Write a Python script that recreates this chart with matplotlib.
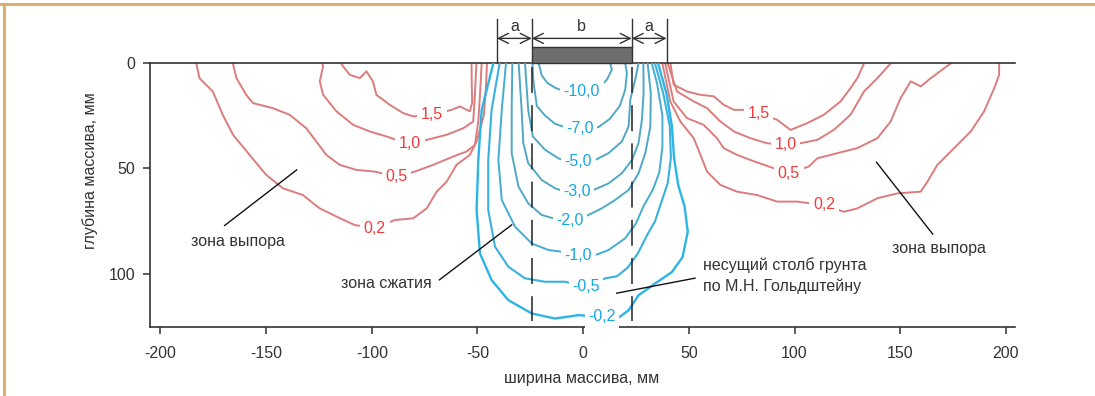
import matplotlib
matplotlib.use("Agg")
import matplotlib.pyplot as plt
from matplotlib.patches import Rectangle
from matplotlib.lines import Line2D

plt.rcParams['font.family'] = ['Liberation Sans', 'DejaVu Sans']

# ---------------- data (mm) ----------------
x_ticks = [-200, -150, -100, -50, 0, 50, 100, 150, 200]
y_ticks = [0, 50, 100]
x_label = "ширина массива, мм"
y_label = "глубина массива, мм"

stamp_left, stamp_right = -24.3, 23.0
a_left, a_right = -40.8, 39.5

# positive (red) isolines, left side
red_l_15 = [(-52.8, 0.3), (-52.7, 10), (-52.5, 19), (-53.6, 23), (-58.3, 20.7), (-62.2, 22.3),
            (-71.6, 24.6), (-80.4, 25.4), (-85.2, 23.8), (-91.5, 19.9), (-97.8, 15.2), (-99.4, 8.9),
            (-102.5, 4.1), (-105.7, 7.3), (-110.4, 5.7), (-113.6, 1.7), (-114.5, 0.3)]
red_l_10 = [(-50.5, 0.3), (-51.2, 15.2), (-52, 27.8), (-56.7, 31), (-64.6, 34.1), (-74, 36.5),
            (-82, 38.0), (-88.3, 36.5), (-93, 34.9), (-101, 32.5), (-108.8, 29.4), (-116.7, 23),
            (-123, 15.2), (-124.6, 8.8), (-123, 1.7), (-123.5, 0.3)]
red_l_05 = [(-48, 0.3), (-48.8, 15.2), (-49.6, 27.8), (-51.2, 38.9), (-55.1, 42), (-61.5, 44.4),
            (-70.9, 48.3), (-79.6, 51.5), (-88.3, 54), (-98.6, 51.5), (-107.3, 50.7), (-115.2, 48.3),
            (-121.5, 43.6), (-126.2, 37.3), (-131, 31), (-138.9, 24.6), (-146.8, 21.5), (-156.2, 19.1),
            (-159.4, 15.2), (-164, 7.3), (-165.7, 0.3)]
red_l_02 = [(-45.5, 0.3), (-46, 12), (-47, 25), (-50.4, 37.3), (-53.6, 43.6), (-59.9, 48.3),
            (-64.6, 56.3), (-69.3, 61), (-74, 68.9), (-80.4, 73.6), (-89, 74.4), (-98.6, 78.2),
            (-108, 76.8), (-115, 73.6), (-124.6, 68.9), (-132.6, 62.6), (-142, 59.4), (-150, 53),
            (-157.8, 43.6), (-165.7, 34), (-170.5, 24.6), (-175.2, 13.6), (-181.5, 7.3), (-183, 0.3)]

# positive (red) isolines, right side
red_r_15 = [(41.3, 0.3), (42.8, 10.4), (49.1, 13.6), (55.5, 15.2), (61.8, 15.9), (66.5, 19.9),
            (71.3, 22.3), (76, 22.3), (83, 24), (91.8, 27), (98.1, 31.8), (106, 28.6), (113.9, 24.6),
            (121.8, 18.3), (126.5, 12), (129.7, 7.3), (132.9, 0.3)]
red_r_10 = [(40.0, 0.3), (44.4, 13.6), (52.3, 18.3), (58.6, 21.5), (64.9, 27.8), (71.3, 32.5),
            (79.1, 35.7), (87, 38.1), (95.7, 38.9), (102.8, 38.1), (110.8, 36.5), (118.6, 31.8),
            (126.5, 24.6), (132.9, 13.6), (139.2, 7.3), (145.5, 0.3)]
red_r_05 = [(38.8, 0.3), (42.8, 18.3), (49.1, 26.2), (57, 29.4), (63.3, 35.7), (66.5, 40.4),
            (72.8, 43.6), (79.1, 46), (87.8, 49.1), (97.3, 52.3), (106.8, 49.1), (110.8, 45.2),
            (120.2, 42.8), (129.7, 40.4), (139.2, 35.7), (145.5, 27.8), (150.2, 16.7), (155, 8.8),
            (159.7, 11.2), (164.5, 7.3), (173.9, 0.3)]
red_r_02 = [(37.5, 0.3), (41.2, 18.3), (46, 27.8), (52.3, 35.7), (55.5, 43.6), (58.6, 51.5),
            (64.9, 57.8), (72.8, 61), (82.3, 62.6), (91.8, 65.7), (101.2, 65.7), (113.9, 67.3),
            (123.4, 70.5), (129.7, 68.9), (139.2, 64.1), (148.7, 61.8), (159.7, 61), (162.9, 56.2),
            (167.6, 48.3), (173.9, 42), (183.4, 32.5), (189.7, 23), (194.5, 12), (196.8, 5.7),
            (196.8, 0.3)]

# negative (blue) isolines
blue_100 = [(-21, 0.3), (-19.6, 6), (-17, 9.5), (-13, 12), (-9, 13.5), (-0.6, 13.8), (6.5, 12.8),
            (11.2, 8.1), (13.6, 3.3), (12.8, 0.3)]
blue_70 = [(-24, 0.3), (-23.5, 9), (-21.9, 20.5), (-18, 25), (-13.3, 28.9), (-8.5, 30.5),
           (-1.4, 31), (7.2, 30.5), (12.6, 26.6), (17.3, 20.5), (19.9, 12.8), (20.7, 5), (19.9, 0.3)]
blue_50 = [(-27.5, 0.3), (-26, 22.3), (-23.8, 34.9), (-18, 41.2), (-11.7, 45.2), (-8.5, 46.7),
           (-2.2, 46.8), (5.7, 46), (12, 42.8), (18.3, 37.3), (21.5, 30.2), (22.3, 17.5),
           (24.6, 8.1), (26.2, 0.3)]
blue_30 = [(-30.5, 0.3), (-29.1, 22.3), (-28.3, 38), (-26, 47.5), (-19.6, 55.5), (-13.3, 59.4),
           (-8.5, 61), (-3, 61), (4.9, 60.2), (12, 57.1), (18.3, 52.3), (23.1, 46), (26.2, 38),
           (27.8, 27), (28.6, 14.4), (28.5, 0.3)]
blue_20 = [(-33.5, 0.3), (-33.8, 22.3), (-33.8, 42.8), (-30.6, 58.6), (-26, 66.5), (-19.6, 72),
           (-14.1, 73.6), (-6.2, 74.4), (0.9, 72.8), (8.8, 68.9), (15.2, 64.9), (21.5, 60.2),
           (26.2, 52.3), (29.4, 42.8), (31.8, 30.2), (32, 14.4), (30.5, 0.3)]
blue_10 = [(-36.5, 0.3), (-38.5, 22.3), (-40.1, 46), (-38.5, 64.9), (-32.2, 77.6), (-24.3, 85.5),
           (-16.4, 88.6), (-10.1, 89.4), (-2.2, 91), (5.7, 91), (12, 88.6), (19.9, 83), (25, 76),
           (28.5, 68), (33, 60), (36, 52), (37.5, 40), (37.5, 25), (35, 10), (32.5, 0.3)]
blue_05 = [(-39.5, 0.3), (-43.3, 22.3), (-44.9, 46), (-44.9, 69.7), (-41.7, 87), (-35.4, 96.5),
           (-27.5, 102), (-18, 103.6), (-8.5, 103.6), (1.3, 106), (10.4, 102), (16, 101), (21, 97),
           (26, 90), (30, 82), (34, 75), (37, 66), (40, 57), (41.5, 45), (41, 30), (38, 15),
           (34, 0.3)]
blue_02 = [(-42.5, 0.3), (-48, 22.3), (-49.6, 46), (-50.4, 69.7), (-48.8, 90.2), (-43.3, 102.8),
           (-35.4, 112.3), (-24.3, 118.6), (-13.3, 121), (-2.2, 119.4), (8.8, 120.2), (17.3, 120.2),
           (21.5, 117.1), (26.2, 110), (34.1, 104.4), (42, 99), (47, 92), (49.5, 80), (48, 68),
           (45, 58), (43, 45), (42, 30), (39.5, 15), (35.5, 0.3)]

# isoline labels: (x, y, text)
red_labels = [(-71.6, 24.6, "1,5"), (-82, 38.0, "1,0"), (-88.3, 54, "0,5"), (-98.6, 78.2, "0,2"),
              (83, 24, "1,5"), (95.7, 38.9, "1,0"), (97.3, 52.3, "0,5"), (113.9, 67.3, "0,2")]
blue_labels = [(-0.6, 13.8, "-10,0"), (-1.4, 31, "-7,0"), (-2.2, 46.8, "-5,0"), (-3, 61, "-3,0"),
               (-6.2, 74.4, "-2,0"), (-2.2, 91, "-1,0"), (1.3, 106, "-0,5"), (8.8, 120.2, "-0,2")]

# annotations: text position, leader line from -> to
ann_left_txt = (-163.5, 84.5, "зона выпора")
ann_left_line = [(-169.6, 77), (-135.5, 50.7)]
ann_right_txt = (168.2, 87.7, "зона выпора")
ann_right_line = [(165.4, 81.1), (138.8, 47.1)]
ann_comp_txt = (-93.2, 104.3, "зона сжатия")
ann_comp_line = [(-68, 102.7), (-33.8, 76.7)]
ann_col_txt = (56.7, 100.8, "несущий столб грунта\nпо М.Н. Гольдштейну")
ann_col_line = [(52.9, 101.9), (15.9, 109)]

# ---------------- figure ----------------
W, H = 1095, 396
fig = plt.figure(figsize=(W / 100, H / 100), dpi=100)
fig.patch.set_facecolor('white')

ax_l, ax_r, ax_t, ax_b = 149.8, 1015, 62.7, 327
ax = fig.add_axes([ax_l / W, 1 - ax_b / H, (ax_r - ax_l) / W, (ax_b - ax_t) / H])
ax.set_xlim(-205, 204.3)
ax.set_ylim(125, 0)

dark = '#333333'
for s in ['left', 'bottom', 'top']:
    ax.spines[s].set_color(dark)
    ax.spines[s].set_linewidth(1.2)
ax.spines['right'].set_visible(False)

ax.set_xticks(x_ticks)
ax.set_xticklabels([str(v) for v in x_ticks])
ax.set_yticks(y_ticks)
ax.set_yticklabels([str(v) for v in y_ticks])
ax.tick_params(axis='x', length=4.8, width=1.1, color=dark, labelsize=11.5, labelcolor=dark, pad=9)
ax.tick_params(axis='y', length=4.8, width=1.1, color=dark, labelsize=11.5, labelcolor=dark, pad=5.5)

red_c = '#DC7C7C'
for line in [red_l_15, red_l_10, red_l_05, red_l_02, red_r_15, red_r_10, red_r_05, red_r_02]:
    xs, ys = zip(*line)
    ax.plot(xs, ys, color=red_c, lw=1.4, solid_capstyle='round', solid_joinstyle='round', zorder=2)

for line, col, lw in [(blue_100, '#4FA9C6', 1.4), (blue_70, '#4FA9C6', 1.4), (blue_50, '#4FA9C6', 1.4),
                      (blue_30, '#4FA9C6', 1.4), (blue_20, '#4FA9C6', 1.4), (blue_10, '#45ACD4', 1.4),
                      (blue_05, '#38B1E0', 1.5), (blue_02, '#2DB4E6', 1.7)]:
    xs, ys = zip(*line)
    ax.plot(xs, ys, color=col, lw=lw, solid_capstyle='round', solid_joinstyle='round', zorder=3)

# dashed stamp-edge lines
for xv in (stamp_left, stamp_right):
    ax.plot([xv, xv], [2, 122], color='#222222', lw=1.1, dashes=(17, 8), zorder=4)

# labels (white box leaves a gap in the isoline)
for x, y, t in red_labels:
    ax.text(x, y, t, color='#EE3B3B', fontsize=11.5, ha='center', va='center', zorder=6,
            bbox=dict(facecolor='white', edgecolor='none', pad=2.8))
for x, y, t in blue_labels:
    ax.text(x, y, t, color='#16A6E0', fontsize=11.5, ha='center', va='center', zorder=6,
            bbox=dict(facecolor='white', edgecolor='none', pad=2.5))

# stamp and dimension lines above the ground surface
ax.add_patch(Rectangle((stamp_left, -7.6), stamp_right - stamp_left, 7.6, facecolor='#6E6E6E',
                       edgecolor='#333333', lw=1.0, clip_on=False, zorder=5))
for xv in (a_left, a_right):
    ax.plot([xv, xv], [-20.5, 0], color=dark, lw=1.0, clip_on=False, zorder=5)
for xv in (stamp_left, stamp_right):
    ax.plot([xv, xv], [-20.5, -7.6], color=dark, lw=1.0, clip_on=False, zorder=5)
for x0, x1, t in [(a_left, stamp_left, 'a'), (stamp_left, stamp_right, 'b'), (stamp_right, a_right, 'a')]:
    ax.annotate('', xy=(x0, -11.5), xytext=(x1, -11.5), annotation_clip=False,
                arrowprops=dict(arrowstyle='<->,head_length=0.6,head_width=0.3', color=dark, lw=1.0,
                                shrinkA=0, shrinkB=0, mutation_scale=12))
    ax.text((x0 + x1) / 2, -17.3, t, ha='center', va='center', fontsize=11.5, color=dark, clip_on=False)

# annotations
for (tx, ty, tt), ln, ha in [(ann_left_txt, ann_left_line, 'center'), (ann_right_txt, ann_right_line, 'center'),
                             (ann_comp_txt, ann_comp_line, 'center'), (ann_col_txt, ann_col_line, 'left')]:
    (xa, ya), (xb, yb) = ln
    ax.plot([xa, xb], [ya, yb], color='#111111', lw=1.0, zorder=7)
    ax.text(tx, ty, tt, ha=ha, va='center', fontsize=11.5, color=dark, linespacing=1.45, zorder=7)

# axis titles
fig.text(582 / W, 1 - 378 / H, x_label, ha='center', va='center', fontsize=11.5, color=dark)
fig.text(90 / W, 1 - 171 / H, y_label, ha='center', va='center', rotation=90, fontsize=11.5, color=dark)

# decorative frame (top and left)
border = '#D8B26A'
fig.add_artist(Line2D([0, 1], [1 - 4 / H, 1 - 4 / H], transform=fig.transFigure, color=border, lw=2.2))
fig.add_artist(Line2D([4 / W, 4 / W], [0, 1 - 4 / H], transform=fig.transFigure, color=border, lw=2.2))

fig.savefig('out.png', dpi=100)
